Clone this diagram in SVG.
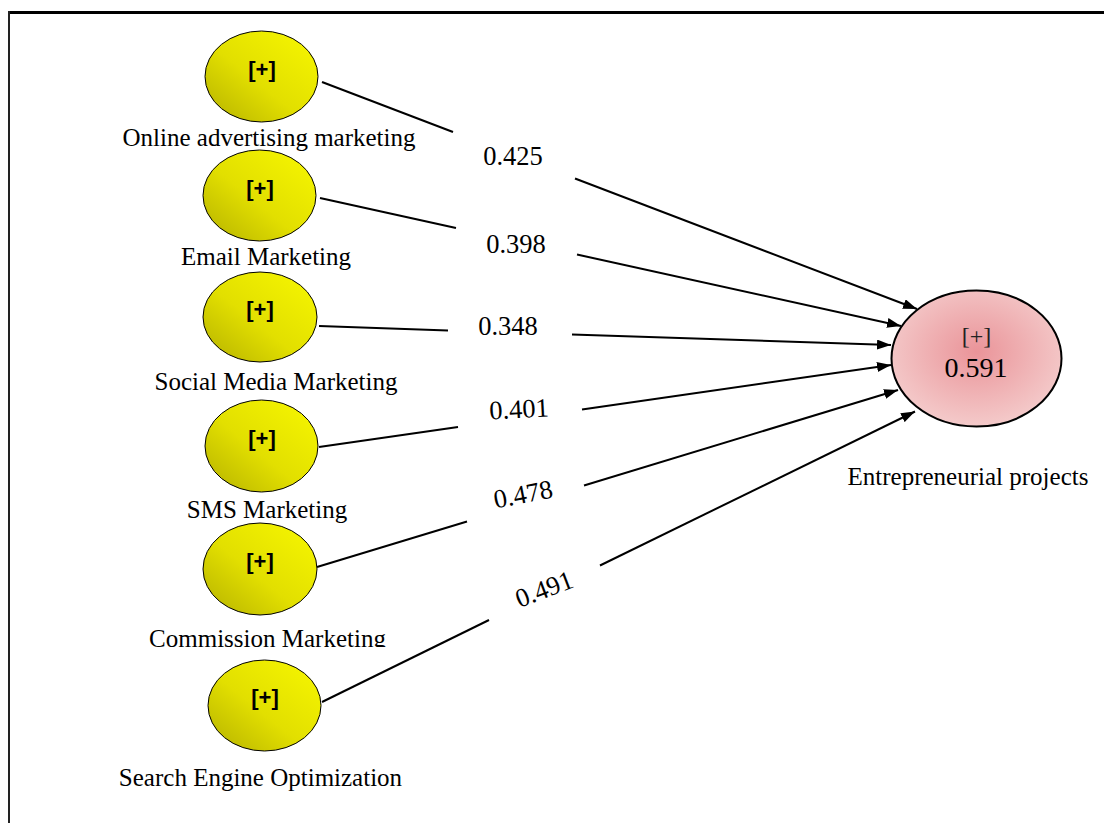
<svg xmlns="http://www.w3.org/2000/svg" width="1104" height="823" viewBox="0 0 1104 823">
<defs>
<linearGradient id="yel" x1="0" y1="1" x2="1" y2="0">
<stop offset="0" stop-color="#b4b000"/>
<stop offset="0.45" stop-color="#e2df00"/>
<stop offset="1" stop-color="#f8f800"/>
</linearGradient>
<radialGradient id="pink" cx="0.5" cy="0.45" r="0.55">
<stop offset="0" stop-color="#ea9499"/>
<stop offset="1" stop-color="#f4caca"/>
</radialGradient>
<marker id="arr" viewBox="0 0 14 10" refX="14" refY="5" markerWidth="14" markerHeight="10" markerUnits="userSpaceOnUse" orient="auto">
<path d="M0,0 L14,5 L0,10 Z" fill="#000"/>
</marker>
<clipPath id="clipC"><rect x="0" y="600" width="500" height="47"/></clipPath>
</defs>
<style>
.src{fill:url(#yel);stroke:#000;stroke-width:1}
.plus{font-family:"Liberation Sans",Arial,sans-serif;font-size:22px;font-weight:bold;text-anchor:middle;fill:#000}
.lbl{font-family:"Liberation Serif","Times New Roman",serif;font-size:25px;text-anchor:middle;fill:#000}
.coef{font-family:"Liberation Serif","Times New Roman",serif;font-size:26.5px;text-anchor:middle;fill:#000}
.tgt{font-family:"Liberation Serif","Times New Roman",serif;text-anchor:middle}
.ln{stroke:#000;stroke-width:2;fill:none}
</style>
<rect width="1104" height="823" fill="#fff"/>
<g id="frame">
<line x1="8" y1="12.5" x2="1104" y2="12.5" stroke="#000" stroke-width="3"/>
<line x1="9" y1="11" x2="9" y2="823" stroke="#222" stroke-width="2"/>
</g>
<g id="connectors">
<line class="ln" x1="322" y1="82" x2="453" y2="132"/>
<line class="ln" x1="575" y1="178.5" x2="917" y2="309" marker-end="url(#arr)"/>
<line class="ln" x1="320" y1="198" x2="456" y2="228"/>
<line class="ln" x1="577" y1="254.5" x2="901" y2="326" marker-end="url(#arr)"/>
<line class="ln" x1="319" y1="326" x2="448" y2="330.5"/>
<line class="ln" x1="572" y1="334.5" x2="891" y2="345" marker-end="url(#arr)"/>
<line class="ln" x1="319" y1="447" x2="458" y2="427"/>
<line class="ln" x1="582" y1="409.5" x2="891" y2="365" marker-end="url(#arr)"/>
<line class="ln" x1="317" y1="567" x2="467" y2="521.5"/>
<line class="ln" x1="584" y1="485.5" x2="898" y2="390" marker-end="url(#arr)"/>
<line class="ln" x1="322" y1="702" x2="489" y2="620"/>
<line class="ln" x1="600" y1="565.5" x2="915" y2="411.5" marker-end="url(#arr)"/>
<text class="coef" x="513" y="165">0.425</text>
<text class="coef" x="516" y="253">0.398</text>
<text class="coef" x="508" y="335">0.348</text>
<text class="coef" x="519" y="418" transform="rotate(-3 519 410)">0.401</text>
<text class="coef" x="523" y="503" transform="rotate(-11 523 494)">0.478</text>
<text class="coef" x="544" y="598" transform="rotate(-21 544 589)">0.491</text>
</g>
<g id="n1">
<ellipse class="src" cx="261.5" cy="76.5" rx="56.5" ry="45.5"/>
<text class="plus" x="262" y="77">[+]</text>
<text class="lbl" x="269" y="146">Online advertising marketing</text>
</g>
<g id="n2">
<ellipse class="src" cx="259.5" cy="195.5" rx="56.5" ry="45.5"/>
<text class="plus" x="260" y="196">[+]</text>
<text class="lbl" x="266" y="265">Email Marketing</text>
</g>
<g id="n3">
<ellipse class="src" cx="260" cy="317" rx="57" ry="45"/>
<text class="plus" x="260" y="317">[+]</text>
<text class="lbl" x="276" y="390">Social Media Marketing</text>
</g>
<g id="n4">
<ellipse class="src" cx="261.5" cy="446" rx="56.5" ry="46"/>
<text class="plus" x="262" y="446">[+]</text>
<text class="lbl" x="267" y="518">SMS Marketing</text>
</g>
<g id="n5">
<ellipse class="src" cx="260" cy="569" rx="57" ry="46"/>
<text class="plus" x="260" y="569">[+]</text>
<text class="lbl" x="267.5" y="647" clip-path="url(#clipC)">Commission Marketing</text>
</g>
<g id="n6">
<ellipse class="src" cx="264.5" cy="705.5" rx="56.5" ry="45.5"/>
<text class="plus" x="265" y="705">[+]</text>
<text class="lbl" x="260.5" y="786">Search Engine Optimization</text>
</g>
<g id="target">
<ellipse cx="976.5" cy="358.5" rx="85" ry="68" fill="url(#pink)" stroke="#000" stroke-width="2"/>
<text class="tgt" x="976.5" y="344" font-size="24" fill="#222">[+]</text>
<text class="tgt" x="976" y="377" font-size="28" fill="#000">0.591</text>
<text class="lbl" x="968" y="485">Entrepreneurial projects</text>
</g>
</svg>
